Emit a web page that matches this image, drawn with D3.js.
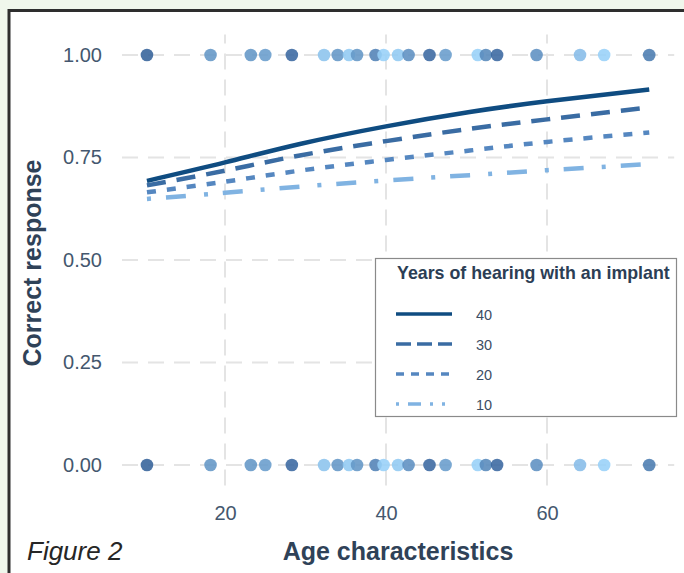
<!DOCTYPE html>
<html>
<head>
<meta charset="utf-8">
<script src="https://cdn.jsdelivr.net/npm/d3@7"></script>
<style>
  html, body { margin: 0; padding: 0; background: #f0f7ec; }
  svg { display: block; }
</style>
</head>
<body>
<svg id="chart" width="684" height="573"></svg>
<script>
// ---- Data ----
const pointAges  = [10.3, 18.2, 23.2, 25.0, 28.3, 32.3, 34.0, 35.4, 36.4, 38.7, 39.7,
                    41.5, 42.8, 45.4, 47.4, 51.4, 52.4, 53.8, 58.7, 64.1, 67.1, 72.7];
const pointYears = [40, 24, 24, 22, 38, 10, 24, 8, 24, 30, 6,
                    8, 26, 38, 22, 6, 28, 38, 26, 12, 6, 32];
const responses  = [0, 1];

const curveAges = [10.3, 20, 29.3, 40, 50.4, 60, 72.7];
const fit40 = [0.693, 0.738, 0.783, 0.826, 0.861, 0.887, 0.916];
const fit30 = [0.682, 0.718, 0.755, 0.790, 0.820, 0.843, 0.872];
const fit20 = [0.665, 0.691, 0.718, 0.744, 0.767, 0.788, 0.811];
const fit10 = [0.649, 0.664, 0.679, 0.694, 0.707, 0.719, 0.734];
const groupLabels = ["40", "30", "20", "10"];

const xTicks = [20, 40, 60];
const yTicks = [0, 0.25, 0.5, 0.75, 1];

// ---- Layout ----
const svg = d3.select("#chart");
const W = 684, H = 573;

// white card with dark border
svg.append("rect").attr("x", 9).attr("y", 10.5).attr("width", W + 20).attr("height", H + 20)
  .attr("fill", "#ffffff").attr("stroke", "#2e2e2e").attr("stroke-width", 3);

const xDomain = [7.2, 75.8];
const x = d3.scaleLinear().domain(xDomain).range([122, 674.2]);
const y = d3.scaleLinear().domain([-0.05, 1.05]).range([485.5, 34.5]);

const gridColor = "#e4e4e4";
const gridDash = "16,10";

// gridlines
svg.append("g").selectAll("line").data(yTicks).join("line")
  .attr("x1", x(xDomain[0])).attr("x2", x(xDomain[1]))
  .attr("y1", d => y(d)).attr("y2", d => y(d))
  .attr("stroke", gridColor).attr("stroke-width", 2).attr("stroke-dasharray", gridDash);
svg.append("g").selectAll("line").data(xTicks).join("line")
  .attr("x1", d => x(d)).attr("x2", d => x(d))
  .attr("y1", y(-0.05)).attr("y2", y(1.05))
  .attr("stroke", gridColor).attr("stroke-width", 2).attr("stroke-dasharray", gridDash);

// axes
const tickColor = "#44576e";
const yAxis = svg.append("g").attr("transform", `translate(${x(xDomain[0])},0)`)
  .call(d3.axisLeft(y).tickValues(yTicks).tickFormat(d3.format(".2f")).tickSize(0).tickPadding(20));
const xAxis = svg.append("g").attr("transform", `translate(0,${y(-0.05)})`)
  .call(d3.axisBottom(x).tickValues(xTicks).tickFormat(d3.format("d")).tickSize(0).tickPadding(20));
[xAxis, yAxis].forEach(a => {
  a.select(".domain").remove();
  a.selectAll("text").attr("fill", tickColor)
    .style("font-family", "'Liberation Sans', Arial, sans-serif").style("font-size", "20px");
});

// points
const color = d3.scaleLinear().domain([5, 40]).range(["#9ad3fb", "#34629a"]);
const pts = [];
responses.forEach(r => pointAges.forEach((a, i) => pts.push({ age: a, yrs: pointYears[i], r })));
svg.append("g").selectAll("circle").data(pts).join("circle")
  .attr("cx", d => x(d.age)).attr("cy", d => y(d.r)).attr("r", 6.3)
  .attr("fill", d => color(d.yrs)).attr("fill-opacity", 0.88);

// fitted lines
const series = [
  { label: groupLabels[0], vals: fit40, color: "#0f4c81", dash: null,          ldash: null },
  { label: groupLabels[1], vals: fit30, color: "#3a6ca3", dash: "19,11",       ldash: "15,6" },
  { label: groupLabels[2], vals: fit20, color: "#5587c0", dash: "9,11",        ldash: "8,7" },
  { label: groupLabels[3], vals: fit10, color: "#80b3e2", dash: "4,15,20,18",  ldash: "3,9,13,9,3,9,3,9" }
];
const line = d3.line().x(d => x(d[0])).y(d => y(d[1])).curve(d3.curveNatural);
svg.append("g").selectAll("path").data(series.slice().reverse()).join("path")
  .attr("d", s => line(curveAges.map((a, i) => [a, s.vals[i]])))
  .attr("fill", "none").attr("stroke", s => s.color).attr("stroke-width", 4.5)
  .attr("stroke-dasharray", s => s.dash);

// legend
const lg = svg.append("g");
lg.append("rect").attr("x", 375.5).attr("y", 258.5).attr("width", 301).attr("height", 158)
  .attr("fill", "#ffffff").attr("stroke", "#8a8a8a").attr("stroke-width", 1.2);
lg.append("text").attr("x", 397).attr("y", 279)
  .style("font-family", "'Liberation Sans', Arial, sans-serif").style("font-size", "17.8px")
  .style("font-weight", "bold").attr("fill", "#2c3e55")
  .text("Years of hearing with an implant");
series.forEach((s, i) => {
  const ly = 314 + i * 30;
  lg.append("line").attr("x1", 396).attr("x2", 452).attr("y1", ly).attr("y2", ly)
    .attr("stroke", s.color).attr("stroke-width", 3.4).attr("stroke-dasharray", s.ldash);
  lg.append("text").attr("x", 476).attr("y", ly + 6)
    .style("font-family", "'Liberation Sans', Arial, sans-serif").style("font-size", "14.5px")
    .attr("fill", "#3c4d63").text(s.label);
});

// axis titles
svg.append("text").attr("x", 398).attr("y", 560).attr("text-anchor", "middle")
  .style("font-family", "'Liberation Sans', Arial, sans-serif").style("font-size", "25px")
  .style("font-weight", "bold").attr("fill", "#2f4258").text("Age characteristics");
svg.append("text").attr("transform", "translate(41,263) rotate(-90)").attr("text-anchor", "middle")
  .style("font-family", "'Liberation Sans', Arial, sans-serif").style("font-size", "25px")
  .style("font-weight", "bold").attr("fill", "#2f4258").text("Correct response");

// caption
svg.append("text").attr("x", 27).attr("y", 560)
  .style("font-family", "'Liberation Sans', Arial, sans-serif").style("font-size", "26px")
  .style("font-style", "italic").attr("fill", "#262626").text("Figure 2");
</script>
</body>
</html>
